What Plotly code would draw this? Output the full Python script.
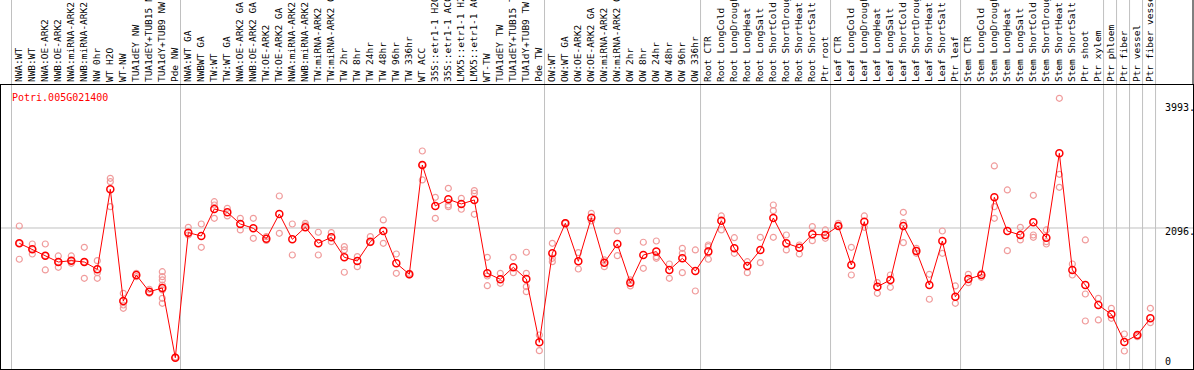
import plotly.graph_objects as go

title = "Potri.005G021400"

labels = [
    "NWA:WT", "NWB:WT", "NWA:OE-ARK2", "NWB:OE-ARK2", "NWA:miRNA-ARK2", "NWB:miRNA-ARK2",
    "NW 0hr", "WT H2O", "WT-NW", "TUA1dEY NW", "TUA1dEY+TUB15 NW", "TUA1dY+TUB9 NW", "Pde NW",
    "NWA:WT GA", "NWBWT GA", "TW:WT", "TW:WT GA", "NWA:OE-ARK2 GA", "NWB:OE-ARK2 GA",
    "TW:OE-ARK2", "TW:OE-ARK2 GA", "NWA:miRNA-ARK2 GA", "NWB:miRNA-ARK2 GA", "TW:miRNA-ARK2",
    "TW:miRNA-ARK2 GA", "TW 2hr", "TW 8hr", "TW 24hr", "TW 48hr", "TW 96hr", "TW 336hr",
    "WT ACC", "35S::etr1-1 H2O", "35S::etr1-1 ACC", "LMX5::etr1-1 H2O", "LMX5::etr1-1 ACC",
    "WT-TW", "TUA1dEY TW", "TUA1dEY+TUB15 TW", "TUA1dY+TUB9 TW", "Pde TW",
    "OW:WT", "OW:WT GA", "OW:OE-ARK2", "OW:OE-ARK2 GA", "OW:miRNA-ARK2", "OW:miRNA-ARK2 GA",
    "OW 2hr", "OW 8hr", "OW 24hr", "OW 48hr", "OW 96hr", "OW 336hr",
    "Root CTR", "Root LongCold", "Root LongDrought", "Root LongHeat", "Root LongSalt",
    "Root ShortCold", "Root ShortDrought", "Root ShortHeat", "Root ShortSalt", "Ptr root",
    "Leaf CTR", "Leaf LongCold", "Leaf LongDrought", "Leaf LongHeat", "Leaf LongSalt",
    "Leaf ShortCold", "Leaf ShortDrought", "Leaf ShortHeat", "Leaf ShortSalt", "Ptr leaf",
    "Stem CTR", "Stem LongCold", "Stem LongDrought", "Stem LongHeat", "Stem LongSalt",
    "Stem ShortCold", "Stem ShortDrought", "Stem ShortHeat", "Stem ShortSalt", "Ptr shoot",
    "Ptr xylem", "Ptr phloem", "Ptr fiber", "Ptr vessel", "Ptr fiber vessel",
]

group_sizes = [13, 28, 12, 10, 10, 11, 1, 1, 1, 1]

means = [
    1856, 1762, 1662, 1562, 1583, 1562, 1447, 2703, 950, 1358, 1096, 1154, 60,
    2023, 1970, 2394, 2342, 2159, 2091, 1928, 2316, 1918, 2107, 1856, 1950, 1636, 1578,
    1881, 2049, 1542, 1369, 3085, 2442, 2547, 2473, 2536, 1385, 1291, 1479, 1295, 301,
    1699, 2170, 1573, 2258, 1552, 1845, 1238, 1672, 1725, 1437, 1620, 1421,
    1725, 2211, 1777, 1500, 1751, 2253, 1856, 1787, 1997, 1986,
    2127, 1515, 2195, 1175, 1280, 2127, 1735, 1201, 1892, 1018,
    1295, 1358, 2578, 2049, 1986, 2185, 1944, 3269, 1437, 1201, 887,
    741, 306, 416, 678,
]

replicates = [
    [2127, 1605, 1856], [1845, 1688, 1762], [1845, 1662, 1437], [1657, 1479, 1562],
    [1657, 1542, 1583], [1793, 1306, 1562], [1583, 1395, 1306], [2876, 2823, 2431],
    [1071, 887, 835], [1385, 1332], [1134, 1071], [1410, 1332, 1280, 1201, 1123, 992, 914],
    [60, 70],
    [2107, 1986], [2159, 1793], [2509, 2457, 2248], [2405, 2285], [2248, 2065],
    [2248, 1934], [1960, 1900], [2598, 2013], [2159, 1672], [2170, 2143],
    [2029, 1672], [2023, 1881], [1803, 1751, 1401], [1646, 1489], [1960, 1866],
    [2222, 1856], [1688, 1385], [1385, 1360], [3305, 2850, 3085], [2578, 2248],
    [2719, 2457, 2431], [2562, 2390], [2682, 2641, 2311], [1636, 1342, 1190],
    [1385, 1228], [1636, 1395], [1715, 1385, 1175, 1096], [416, 170],
    [1856, 1620, 1567], [2180, 2170], [1709, 1452], [2327, 2206], [1594, 1489],
    [2049, 1662], [1280, 1186], [1872, 1463], [1892, 1646, 1620], [1531, 1306],
    [1777, 1699, 1395], [1751, 1107],
    [1829, 1803, 1605], [2285, 2065], [1944, 1699], [1567, 1395], [1950, 1552],
    [2457, 2368, 1950], [1986, 1751], [1829, 1688], [2117, 1897], [2065, 1934],
    [2170, 2127], [1793, 1358], [2285, 2107], [1238, 1071], [1358, 1165],
    [2342, 2180, 1866], [1777, 1699], [1369, 977], [2049, 1699], [1186, 914],
    [1369, 1238], [1385, 1322], [3070, 2431, 2248], [2693, 1740], [2107, 1908],
    [2609, 1986, 1950], [2065, 1881, 1845], [4132, 2939, 2735], [1531, 1358],
    [1908, 1060, 636], [992, 652],
    [835, 678], [432, 165], [410, 390], [835, 609],
]

axis_ticks = [0, 2096, 3993]
axis_ticktext = ["0", "2096.", "3993."]

FONT = "DejaVu Sans Mono"
x_idx = list(range(len(labels)))

rep_x, rep_y = [], []
for i, reps in enumerate(replicates):
    for v in reps:
        rep_x.append(i)
        rep_y.append(v)

fig = go.Figure()
fig.add_trace(go.Scatter(
    x=rep_x, y=rep_y, mode="markers",
    marker=dict(symbol="circle-open", size=6, color="#f09c9c", line=dict(width=1.2, color="#f09c9c")),
    hoverinfo="skip", showlegend=False,
))
fig.add_trace(go.Scatter(
    x=x_idx, y=means, mode="lines+markers",
    line=dict(color="#ff0000", width=1),
    marker=dict(symbol="circle-open", size=7, color="#ff0000", line=dict(width=1.5, color="#ff0000")),
    showlegend=False,
))

# group separators
shapes = []
bounds = [-0.6]
acc = 0
for g in group_sizes:
    acc += g
    bounds.append(acc - 1 + 0.4)
for b in bounds:
    shapes.append(dict(type="line", xref="x", yref="paper", x0=b, x1=b, y0=0, y1=1.31,
                       line=dict(color="#c0c0c0", width=1), layer="below"))
shapes.append(dict(type="line", xref="paper", yref="y", x0=0, x1=1, y0=axis_ticks[1], y1=axis_ticks[1],
                   line=dict(color="#c0c0c0", width=1), layer="below"))
shapes.append(dict(type="line", xref="paper", yref="paper", x0=1, x1=1, y0=1, y1=1.31,
                   line=dict(color="#000000", width=1)))

annotations = [dict(text=title, xref="paper", yref="paper", x=(10 - 1) / 1192, y=(369 - 97) / 284,
                    xanchor="left", yanchor="middle", showarrow=False,
                    font=dict(family=FONT, size=10, color="#ff0000"))]
shifts = [0, -4, 0]
for v, t, s in zip(axis_ticks, axis_ticktext, shifts):
    annotations.append(dict(text=t, xref="x", yref="y", x=(1163 - 19.3) / 13, y=v, yshift=s,
                            xanchor="left", yanchor="middle", showarrow=False,
                            font=dict(family=FONT, size=10, color="#000000")))

fig.update_layout(
    width=1194, height=370,
    margin=dict(l=1, r=1, t=85, b=1, pad=0),
    paper_bgcolor="white", plot_bgcolor="white",
    shapes=shapes, annotations=annotations,
    xaxis=dict(
        range=[-1.408, 90.28], side="top", tickmode="array", tickvals=x_idx, ticktext=labels,
        tickangle=-90, tickfont=dict(family=FONT, size=9.5, color="#000000"),
        showgrid=False, zeroline=False, showline=True, linecolor="#000000", linewidth=1,
        mirror=True, ticks="", ticklen=0, automargin=False,
    ),
    yaxis=dict(
        range=[-117.8, 4341], showticklabels=False, showgrid=False, zeroline=False,
        showline=True, linecolor="#000000", linewidth=1, mirror=True, ticks="",
        automargin=False,
    ),
)

fig.write_html(
    "out.html",
    config={"displayModeBar": False},
    post_script="document.body.style.margin='0';document.body.style.overflow='hidden';",
)
